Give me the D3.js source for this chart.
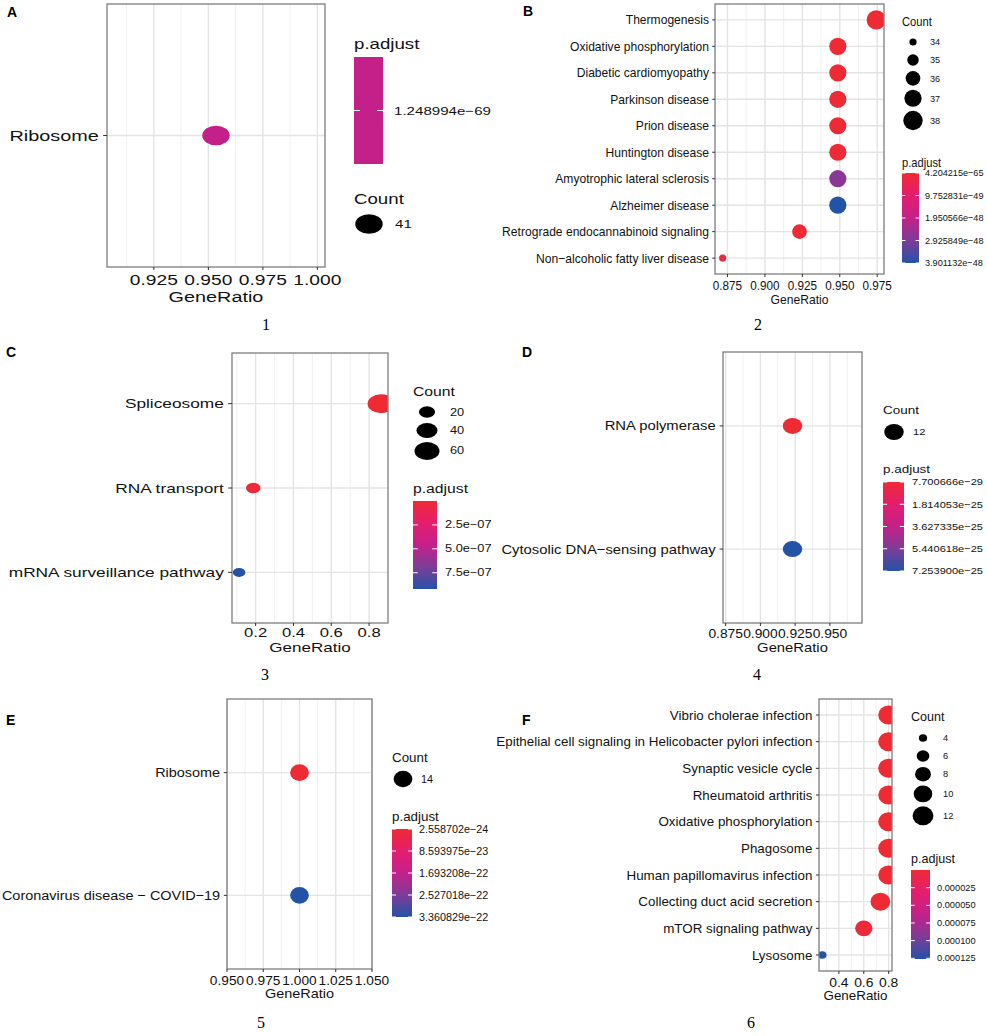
<!DOCTYPE html>
<html>
<head>
<meta charset="utf-8">
<script src="https://cdn.jsdelivr.net/npm/d3@7"></script>
<style>
body{margin:0;background:#fff}
svg{display:block;font-family:"Liberation Sans",Arial,Helvetica,sans-serif}
</style>
</head>
<body>
<div id="chart"></div>
<script>
// panel A
var aTerms = ["Ribosome"];
var aRatio = [0.9535];
var aCount = [41];
var aPadj = [1.248994e-69];
var aTicks = [0.925, 0.95, 0.975, 1.0];
var aTickLabels = ["0.925", "0.950", "0.975", "1.000"];
var aCountBreaks = [41];
var aPadjBreaks = [1.248994e-69];
var aPadjLabels = ["1.248994e\u221269"];

// panel B
var bTerms = ["Thermogenesis", "Oxidative phosphorylation", "Diabetic cardiomyopathy", "Parkinson disease",
  "Prion disease", "Huntington disease", "Amyotrophic lateral sclerosis", "Alzheimer disease",
  "Retrograde endocannabinoid signaling", "Non\u2212alcoholic fatty liver disease"];
var bRatio = [0.9744, 0.9487, 0.9487, 0.9487, 0.9487, 0.9487, 0.9487, 0.9487, 0.9231, 0.8718];
var bCount = [38, 37, 37, 37, 37, 37, 37, 37, 36, 34];
var bPadj = [4.204215e-65, 3.1e-60, 8.4e-58, 2.6e-56, 1.9e-54, 5.2e-52, 2.75e-48, 3.901132e-48, 6.8e-51, 1.1e-49];
var bTicks = [0.875, 0.9, 0.925, 0.95, 0.975];
var bTickLabels = ["0.875", "0.900", "0.925", "0.950", "0.975"];
var bCountBreaks = [34, 35, 36, 37, 38];
var bPadjBreaks = [4.204215e-65, 9.752831e-49, 1.950566e-48, 2.925849e-48, 3.901132e-48];
var bPadjLabels = ["4.204215e\u221265", "9.752831e\u221249", "1.950566e\u221248", "2.925849e\u221248", "3.901132e\u221248"];

// panel C
var cTerms = ["Spliceosome", "RNA transport", "mRNA surveillance pathway"];
var cRatio = [0.8625, 0.1875, 0.1125];
var cCount = [69, 15, 9];
var cPadj = [3.2e-16, 2.1e-08, 9.2e-07];
var cTicks = [0.2, 0.4, 0.6, 0.8];
var cTickLabels = ["0.2", "0.4", "0.6", "0.8"];
var cCountBreaks = [20, 40, 60];
var cPadjBreaks = [2.5e-07, 5.0e-07, 7.5e-07];
var cPadjLabels = ["2.5e\u221207", "5.0e\u221207", "7.5e\u221207"];

// panel D
var dTerms = ["RNA polymerase", "Cytosolic DNA\u2212sensing pathway"];
var dRatio = [0.9231, 0.9231];
var dCount = [12, 12];
var dPadj = [7.700666e-29, 7.2539e-25];
var dTicks = [0.875, 0.9, 0.925, 0.95];
var dTickLabels = ["0.875", "0.900", "0.925", "0.950"];
var dCountBreaks = [12];
var dPadjBreaks = [7.700666e-29, 1.814053e-25, 3.627335e-25, 5.440618e-25, 7.2539e-25];
var dPadjLabels = ["7.700666e\u221229", "1.814053e\u221225", "3.627335e\u221225", "5.440618e\u221225", "7.253900e\u221225"];

// panel E
var eTerms = ["Ribosome", "Coronavirus disease \u2212 COVID\u221219"];
var eRatio = [1.0, 1.0];
var eCount = [14, 14];
var ePadj = [2.558702e-24, 3.360829e-22];
var eTicks = [0.95, 0.975, 1.0, 1.025, 1.05];
var eTickLabels = ["0.950", "0.975", "1.000", "1.025", "1.050"];
var eCountBreaks = [14];
var ePadjBreaks = [2.558702e-24, 8.593975e-23, 1.693208e-22, 2.527018e-22, 3.360829e-22];
var ePadjLabels = ["2.558702e\u221224", "8.593975e\u221223", "1.693208e\u221222", "2.527018e\u221222", "3.360829e\u221222"];

// panel F
var fTerms = ["Vibrio cholerae infection", "Epithelial cell signaling in Helicobacter pylori infection",
  "Synaptic vesicle cycle", "Rheumatoid arthritis", "Oxidative phosphorylation", "Phagosome",
  "Human papillomavirus infection", "Collecting duct acid secretion", "mTOR signaling pathway", "Lysosome"];
var fRatio = [0.8, 0.8, 0.8, 0.8, 0.8, 0.8, 0.8, 0.7333, 0.6, 0.2667];
var fCount = [12, 12, 12, 12, 12, 12, 12, 11, 9, 4];
var fPadj = [2.1e-9, 3.5e-9, 6.2e-9, 8.8e-9, 1.4e-8, 2.6e-8, 4.1e-8, 1.9e-7, 3.3e-6, 1.26e-4];
var fTicks = [0.4, 0.6, 0.8];
var fTickLabels = ["0.4", "0.6", "0.8"];
var fCountBreaks = [4, 6, 8, 10, 12];
var fPadjBreaks = [0.000025, 0.00005, 0.000075, 0.0001, 0.000125];
var fPadjLabels = ["0.000025", "0.000050", "0.000075", "0.000100", "0.000125"];

// red -> magenta -> blue ramp, low p.adjust at top
var rampStops = [0, 0.25, 0.5, 0.75, 1];
var rampCols = ["#EE2B34", "#E41D6E", "#C4208A", "#7E3C98", "#2353A7"];

var panels = [
  {id: "A", num: "1", terms: aTerms, ratio: aRatio, count: aCount, padj: aPadj, ticks: aTicks, tickLabels: aTickLabels,
   countBreaks: aCountBreaks, padjBreaks: aPadjBreaks, padjLabels: aPadjLabels,
   box: [107, 325, 4, 267], sx: 1.28, asp: 1.4, rr: [9.8, 9.8],
   f: {lab: 15.5, tick: 15, title: 15.5, lt: 14.6, ls: 11.8}, tickY: 285, titleY: 302,
   leg: {cTitle: [354, 204], keyX: 369, keyY0: 224, keyLab: 395, pTitle: [354, 49], bar: [354, 383, 57, 164], barLab: 394},
   letter: [7, 17], numPos: [266, 330]},
  {id: "B", num: "2", terms: bTerms, ratio: bRatio, count: bCount, padj: bPadj, ticks: bTicks, tickLabels: bTickLabels,
   countBreaks: bCountBreaks, padjBreaks: bPadjBreaks, padjLabels: bPadjLabels,
   box: [715, 884, 4, 274], sx: 0.93, asp: 1.0, rr: [3.6, 9.7],
   f: {lab: 13, tick: 12.6, title: 13, lt: 12, ls: 9.8}, tickY: 290, titleY: 304,
   leg: {cTitle: [902, 26], keyX: 913, keyY0: 42, keyLab: 930, pTitle: [902, 167], bar: [902, 919, 173, 263], barLab: 925},
   letter: [523, 16], numPos: [758, 330]},
  {id: "C", num: "3", terms: cTerms, ratio: cRatio, count: cCount, padj: cPadj, ticks: cTicks, tickLabels: cTickLabels,
   countBreaks: cCountBreaks, padjBreaks: cPadjBreaks, padjLabels: cPadjLabels,
   box: [232, 388, 353, 623], sx: 1.28, asp: 1.4, rr: [4.5, 9.5],
   f: {lab: 13.5, tick: 13, title: 13.3, lt: 12.3, ls: 10}, tickY: 637, titleY: 652,
   leg: {cTitle: [413, 396], keyX: 427, keyY0: 412, keyLab: 450, pTitle: [413, 493], bar: [413, 437, 501, 589], barLab: 445},
   letter: [6, 357], numPos: [265, 680]},
  {id: "D", num: "4", terms: dTerms, ratio: dRatio, count: dCount, padj: dPadj, ticks: dTicks, tickLabels: dTickLabels,
   countBreaks: dCountBreaks, padjBreaks: dPadjBreaks, padjLabels: dPadjLabels,
   box: [723, 862, 352, 623], sx: 1.14, asp: 1.22, rr: [8, 8],
   f: {lab: 13, tick: 12.1, title: 13, lt: 11.8, ls: 9.7}, tickY: 638, titleY: 652,
   leg: {cTitle: [883, 414], keyX: 894, keyY0: 432, keyLab: 913, pTitle: [883, 473], bar: [883, 904, 482, 571], barLab: 912},
   letter: [522, 357], numPos: [757, 680]},
  {id: "E", num: "5", terms: eTerms, ratio: eRatio, count: eCount, padj: ePadj, ticks: eTicks, tickLabels: eTickLabels,
   countBreaks: eCountBreaks, padjBreaks: ePadjBreaks, padjLabels: ePadjLabels,
   box: [227, 372, 699, 969], sx: 1.07, asp: 1.13, rr: [8.3, 8.3],
   f: {lab: 13.5, tick: 12.8, title: 13.5, lt: 12.5, ls: 10.1}, tickY: 985, titleY: 998,
   leg: {cTitle: [392, 762], keyX: 403, keyY0: 779, keyLab: 421, pTitle: [392, 821], bar: [392, 412, 829, 917], barLab: 419},
   letter: [6, 725], numPos: [261, 1028]},
  {id: "F", num: "6", terms: fTerms, ratio: fRatio, count: fCount, padj: fPadj, ticks: fTicks, tickLabels: fTickLabels,
   countBreaks: fCountBreaks, padjBreaks: fPadjBreaks, padjLabels: fPadjLabels,
   box: [819, 892, 699, 971], sx: 1.03, asp: 1.1, rr: [3.8, 9.5],
   f: {lab: 13, tick: 13.5, title: 13, lt: 12.2, ls: 9}, tickY: 987, titleY: 1000,
   leg: {cTitle: [911, 721], keyX: 923, keyY0: 738, keyLab: 943, pTitle: [911, 863], bar: [911, 930, 870, 959], barLab: 937},
   letter: [522, 725], numPos: [751, 1028]}
];

var svg = d3.select("#chart").append("svg")
  .attr("width", 987).attr("height", 1036);
var defs = svg.append("defs");

function txt(g, x, y, s, size, sx, anchor) {
  return g.append("text")
    .attr("transform", "translate(" + x + "," + y + ") scale(" + sx + ",1)")
    .attr("text-anchor", anchor || "start")
    .style("font-size", size + "px")
    .attr("fill", "#111")
    .text(s);
}

panels.forEach(function(p) {
  var g = svg.append("g");
  var x0 = p.box[0], x1 = p.box[1], y0 = p.box[2], y1 = p.box[3];
  var ext = d3.extent(p.ratio), span = ext[1] - ext[0];
  var dom = span > 0 ? [ext[0] - span * 0.05, ext[1] + span * 0.05] : [ext[0] - 0.05, ext[1] + 0.05];

  var x = d3.scaleLinear().domain(dom).range([x0, x1]);
  var y = d3.scalePoint().domain(p.terms).range([y0, y1]).padding(0.6);
  var size = d3.scaleRadial().domain(d3.extent(p.count)).range(p.rr);
  var pd = d3.extent(p.padj);
  var norm = d3.scaleLinear().domain(pd).range([0, 1]);
  var ramp = d3.scaleLinear().domain(rampStops).range(rampCols);
  var col = function(v) { return ramp(norm(v)); };

  // grid
  var step = p.ticks[1] - p.ticks[0];
  var minor = [p.ticks[0] - step / 2].concat(p.ticks.map(function(t) { return t + step / 2; }))
    .filter(function(m) { return m > dom[0] && m < dom[1]; });

  g.selectAll(".minor").data(minor).enter().append("line")
    .attr("x1", x).attr("x2", x).attr("y1", y0).attr("y2", y1)
    .attr("stroke", "#EEEEEE").attr("stroke-width", 0.9);
  g.selectAll(".major").data(p.ticks).enter().append("line")
    .attr("x1", x).attr("x2", x).attr("y1", y0).attr("y2", y1)
    .attr("stroke", "#E4E4E4").attr("stroke-width", 1.4);
  g.selectAll(".hgrid").data(p.terms).enter().append("line")
    .attr("x1", x0).attr("x2", x1).attr("y1", y).attr("y2", y)
    .attr("stroke", "#E4E4E4").attr("stroke-width", 1.4);

  // points
  var clipId = "clip" + p.id;
  defs.append("clipPath").attr("id", clipId).append("rect")
    .attr("x", x0).attr("y", y0).attr("width", x1 - x0).attr("height", y1 - y0);
  g.append("g").attr("clip-path", "url(#" + clipId + ")")
    .selectAll("ellipse").data(p.terms).enter().append("ellipse")
    .attr("cx", function(d, i) { return x(p.ratio[i]); })
    .attr("cy", function(d) { return y(d); })
    .attr("rx", function(d, i) { return size(p.count[i]) * p.asp; })
    .attr("ry", function(d, i) { return size(p.count[i]); })
    .attr("fill", function(d, i) { return col(p.padj[i]); });

  // frame
  g.append("rect").attr("x", x0).attr("y", y0).attr("width", x1 - x0).attr("height", y1 - y0)
    .attr("fill", "none").attr("stroke", "#7d7d7d").attr("stroke-width", 1.3);

  // y axis
  var tl = 3 * p.sx;
  p.terms.forEach(function(t) {
    g.append("line").attr("x1", x0 - tl).attr("x2", x0).attr("y1", y(t)).attr("y2", y(t))
      .attr("stroke", "#333").attr("stroke-width", 1);
    txt(g, x0 - 6.4 * p.sx, y(t) + p.f.lab * 0.35, t, p.f.lab, p.sx, "end");
  });

  // x axis
  p.ticks.forEach(function(t, i) {
    g.append("line").attr("x1", x(t)).attr("x2", x(t)).attr("y1", y1).attr("y2", y1 + 3)
      .attr("stroke", "#333").attr("stroke-width", 1);
    txt(g, x(t), p.tickY, p.tickLabels[i], p.f.tick, p.sx, "middle");
  });
  txt(g, (x0 + x1) / 2, p.titleY, "GeneRatio", p.f.title, p.sx, "middle");

  // count legend
  var L = p.leg;
  txt(g, L.cTitle[0], L.cTitle[1], "Count", p.f.lt, p.sx);
  var ky = L.keyY0, prevH = null;
  p.countBreaks.forEach(function(c) {
    var r = size(c), h = Math.max(18, 2 * r + 4);
    if (prevH !== null) ky += (prevH + h) / 2;
    g.append("ellipse").attr("cx", L.keyX).attr("cy", ky).attr("rx", r * p.asp).attr("ry", r).attr("fill", "#000");
    txt(g, L.keyLab, ky + p.f.ls * 0.35, String(c), p.f.ls, p.sx);
    prevH = h;
  });

  // p.adjust colourbar
  txt(g, L.pTitle[0], L.pTitle[1], "p.adjust", p.f.lt, p.sx);
  var gid = "grad" + p.id;
  var grad = defs.append("linearGradient").attr("id", gid)
    .attr("x1", 0).attr("y1", 0).attr("x2", 0).attr("y2", 1);
  d3.range(0, 1.0001, 0.05).forEach(function(t) {
    grad.append("stop").attr("offset", t).attr("stop-color", col(pd[0] + t * (pd[1] - pd[0])));
  });
  var b = L.bar;
  g.append("rect").attr("x", b[0]).attr("y", b[2]).attr("width", b[1] - b[0]).attr("height", b[3] - b[2])
    .attr("fill", "url(#" + gid + ")");
  var by = d3.scaleLinear().domain(pd).range([b[2], b[3]]);
  var tw = (b[1] - b[0]) * 0.2;
  p.padjBreaks.forEach(function(v, i) {
    var yy = by(v);
    g.append("line").attr("x1", b[0]).attr("x2", b[0] + tw).attr("y1", yy).attr("y2", yy)
      .attr("stroke", "#fff").attr("stroke-width", 1);
    g.append("line").attr("x1", b[1] - tw).attr("x2", b[1]).attr("y1", yy).attr("y2", yy)
      .attr("stroke", "#fff").attr("stroke-width", 1);
    txt(g, L.barLab, yy + p.f.ls * 0.35, p.padjLabels[i], p.f.ls, p.sx);
  });

  // panel letter and number
  g.append("text").attr("x", p.letter[0]).attr("y", p.letter[1])
    .style("font-size", "14px").style("font-weight", "bold").text(p.id);
  g.append("text").attr("x", p.numPos[0]).attr("y", p.numPos[1]).attr("text-anchor", "middle")
    .style("font-family", "'Liberation Serif','DejaVu Serif',serif").style("font-size", "16px").text(p.num);
});
</script>
</body>
</html>
